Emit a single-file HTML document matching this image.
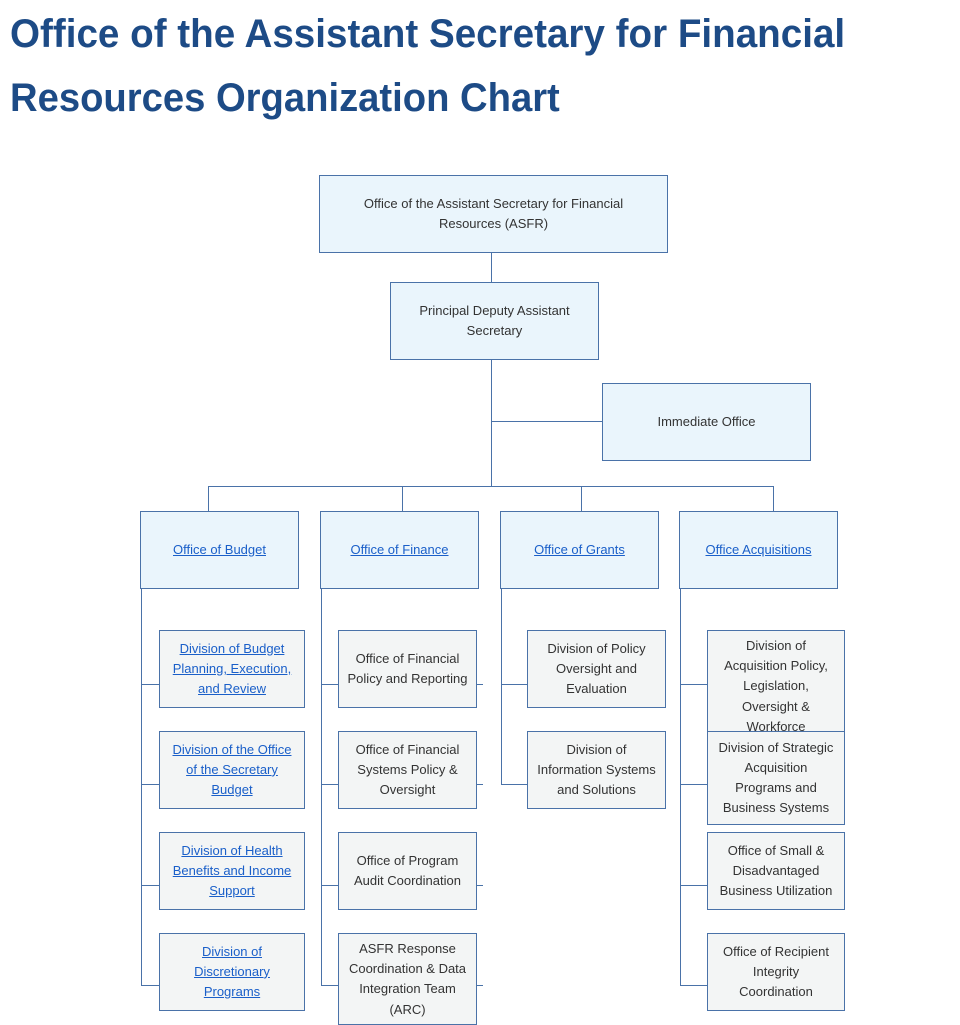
<!DOCTYPE html>
<html><head><meta charset="utf-8"><style>
body{margin:0;background:#fff;width:960px;height:1023px;position:relative;overflow:hidden;font-family:"Liberation Sans",Arial,sans-serif}
.t{position:absolute;left:10px;font-weight:bold;color:#1d4b86;font-size:40px;line-height:40px;white-space:nowrap;transform-origin:0 0;transform:scaleX(0.965)}
.b{position:absolute;box-sizing:border-box;border:1px solid #4a72a8;display:flex;align-items:center;justify-content:center;text-align:center;font-size:13px;line-height:20.2px;color:#333;padding:0 6px;overflow:hidden}
.p{background:#eaf5fc}
.c{background:#f3f5f5}
a{color:#1a5fc9;text-decoration:underline}
svg{position:absolute;left:0;top:0}
</style></head><body>
<div class="t" style="top:14px">Office of the Assistant Secretary for Financial</div>
<div class="t" style="top:78px;transform:scaleX(0.955)">Resources Organization Chart</div>
<svg width="960" height="1023"><g stroke="#4a72a8" stroke-width="1" fill="none" shape-rendering="crispEdges">
<path d="M491.5 252V486M491.5 421.5H602M208.5 486.5H773.5M208.5 486V511M402.5 486V511M581.5 486V511M773.5 486V511"/>
<path d="M141.5 588V985.5M141 684.5H159M141 784.5H159M141 885.5H159M141 985.5H159"/>
<path d="M321.5 588V985.5M321 684.5H338M321 784.5H338M321 885.5H338M321 985.5H338M476 684.5H483M476 784.5H483M476 885.5H483M476 985.5H483"/>
<path d="M501.5 588V784.5M501 684.5H527M501 784.5H527"/>
<path d="M680.5 588V985.5M680 684.5H707M680 784.5H707M680 885.5H707M680 985.5H707"/>
</g></svg>
<div class="b p" style="left:319px;top:175px;width:349px;height:78px;padding:0 30px">Office of the Assistant Secretary for Financial Resources (ASFR)</div>
<div class="b p" style="left:390px;top:282px;width:209px;height:78px;padding:0 18px">Principal Deputy Assistant Secretary</div>
<div class="b p" style="left:602px;top:383px;width:209px;height:78px">Immediate Office</div>
<div class="b p" style="left:140px;top:511px;width:159px;height:78px"><a>Office of Budget</a></div>
<div class="b p" style="left:320px;top:511px;width:159px;height:78px"><a>Office of Finance</a></div>
<div class="b p" style="left:500px;top:511px;width:159px;height:78px"><a>Office of Grants</a></div>
<div class="b p" style="left:679px;top:511px;width:159px;height:78px"><a>Office Acquisitions</a></div>

<div class="b c" style="left:159px;top:630px;width:146px;height:78px"><a>Division of Budget Planning, Execution, and Review</a></div>
<div class="b c" style="left:159px;top:731px;width:146px;height:78px"><a>Division of the Office of the Secretary Budget</a></div>
<div class="b c" style="left:159px;top:832px;width:146px;height:78px"><a>Division of Health Benefits and Income Support</a></div>
<div class="b c" style="left:159px;top:933px;width:146px;height:78px;padding:0 18px"><a>Division of Discretionary Programs</a></div>

<div class="b c" style="left:338px;top:630px;width:139px;height:78px">Office of Financial Policy and Reporting</div>
<div class="b c" style="left:338px;top:731px;width:139px;height:78px">Office of Financial Systems Policy &amp; Oversight</div>
<div class="b c" style="left:338px;top:832px;width:139px;height:78px;padding:0 12px">Office of Program Audit Coordination</div>
<div class="b c" style="left:338px;top:933px;width:139px;height:92px;align-items:flex-start;padding-top:5px">ASFR Response Coordination &amp; Data Integration Team (ARC)</div>

<div class="b c" style="left:527px;top:630px;width:139px;height:78px;padding:0 10px">Division of Policy Oversight and Evaluation</div>
<div class="b c" style="left:527px;top:731px;width:139px;height:78px;padding:0 2px">Division of<br>Information Systems<br>and Solutions</div>

<div class="b c" style="left:707px;top:630px;width:138px;height:103px;align-items:flex-start;padding-top:5px">Division of Acquisition Policy, Legislation, Oversight &amp; Workforce</div>
<div class="b c" style="left:707px;top:731px;width:138px;height:94px;padding:0 2px">Division of Strategic<br>Acquisition<br>Programs and<br>Business Systems</div>
<div class="b c" style="left:707px;top:832px;width:138px;height:78px;padding:0 8px">Office of Small &amp; Disadvantaged Business Utilization</div>
<div class="b c" style="left:707px;top:933px;width:138px;height:78px;padding:0 10px">Office of Recipient Integrity Coordination</div>
</body></html>
